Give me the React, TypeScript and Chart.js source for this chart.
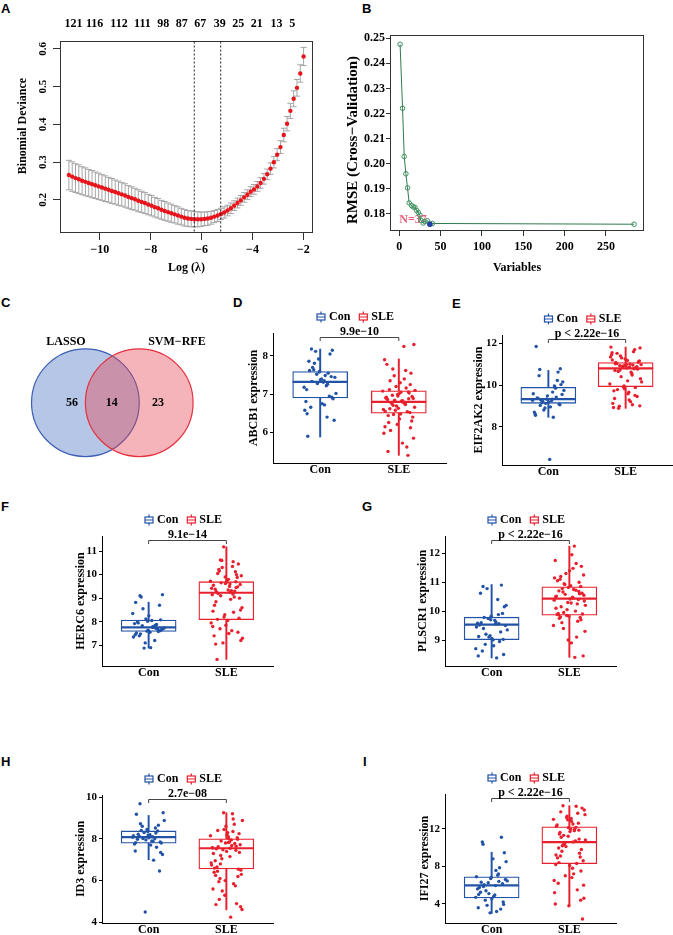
import React, { useEffect, useRef } from "react";
import { Chart, registerables } from "chart.js";

Chart.register(...registerables);

const SERIF = "'Liberation Serif', 'Times New Roman', serif";
Chart.defaults.font.family = SERIF;
Chart.defaults.font.weight = "bold" as any;
Chart.defaults.font.size = 12;
Chart.defaults.color = "#000";

const BLUE = "#2253a6";
const RED = "#e8202d";

// ---------- Panel A: LASSO cross-validation ----------
const logLambda = [-11.22, -11.09, -10.96, -10.83, -10.70, -10.57, -10.44, -10.31, -10.18, -10.05,
  -9.92, -9.79, -9.66, -9.53, -9.40, -9.27, -9.14, -9.01, -8.88, -8.75,
  -8.62, -8.49, -8.36, -8.23, -8.10, -7.97, -7.84, -7.71, -7.58, -7.45,
  -7.32, -7.19, -7.06, -6.93, -6.80, -6.67, -6.54, -6.41, -6.28, -6.15,
  -6.02, -5.89, -5.76, -5.63, -5.50, -5.37, -5.24, -5.11, -4.98, -4.85,
  -4.72, -4.59, -4.46, -4.33, -4.20, -4.07, -3.94, -3.81, -3.68, -3.55,
  -3.42, -3.29, -3.16, -3.03, -2.90, -2.77, -2.64, -2.51, -2.38, -2.25,
  -2.12, -1.99];
const binomialDeviance = [0.266, 0.262, 0.258, 0.255, 0.251, 0.248, 0.245, 0.242, 0.239, 0.236,
  0.233, 0.230, 0.227, 0.224, 0.221, 0.218, 0.215, 0.212, 0.208, 0.205,
  0.202, 0.198, 0.195, 0.192, 0.188, 0.185, 0.181, 0.178, 0.174, 0.171,
  0.168, 0.165, 0.162, 0.159, 0.156, 0.153, 0.151, 0.150, 0.149, 0.149,
  0.149, 0.150, 0.151, 0.153, 0.156, 0.159, 0.163, 0.167, 0.172, 0.178,
  0.185, 0.192, 0.199, 0.207, 0.214, 0.222, 0.228, 0.236, 0.245, 0.256,
  0.268, 0.283, 0.300, 0.320, 0.340, 0.372, 0.402, 0.436, 0.468, 0.497,
  0.535, 0.580];
const devianceSD = [0.039, 0.039, 0.038, 0.038, 0.037, 0.037, 0.036, 0.036, 0.035, 0.035,
  0.034, 0.034, 0.033, 0.033, 0.032, 0.032, 0.031, 0.031, 0.030, 0.030,
  0.029, 0.029, 0.028, 0.028, 0.027, 0.027, 0.026, 0.026, 0.025, 0.025,
  0.024, 0.024, 0.023, 0.023, 0.022, 0.022, 0.021, 0.021, 0.020, 0.020,
  0.019, 0.018, 0.018, 0.017, 0.016, 0.016, 0.015, 0.015, 0.014, 0.014,
  0.013, 0.013, 0.013, 0.013, 0.013, 0.013, 0.013, 0.013, 0.014, 0.014,
  0.014, 0.015, 0.015, 0.016, 0.017, 0.018, 0.019, 0.020, 0.021, 0.022,
  0.023, 0.024];
const nonzeroLambda = [-11.04, -10.21, -9.25, -8.33, -7.51, -6.78, -6.05, -5.29, -4.56, -3.83, -3.06, -2.44];
const nonzeroCounts = ["121", "116", "112", "111", "98", "87", "67", "39", "25", "21", "13", "5"];
const lambdaMinLog = -6.29;
const lambda1seLog = -5.25;

// ---------- Panel B: SVM-RFE ----------
const rfeVariables = [1, 4, 6, 8, 10, 12, 15, 17, 19, 21, 23, 25, 26, 29, 31, 34, 37, 40, 284];
const rfeRMSE = [0.2476, 0.2221, 0.2029, 0.1960, 0.1904, 0.1844, 0.1833, 0.1828, 0.1826, 0.1814,
  0.1806, 0.1795, 0.1775, 0.1764, 0.1770, 0.1773, 0.1759, 0.1762, 0.1759];
const rfeBestN = 37;

// ---------- Panel C: Venn ----------
const vennSetNames = ["LASSO", "SVM-RFE"];
const vennCounts = [56, 14, 23];

// ---------- Panels D-I: boxplots ----------
const groups = ["Con", "SLE"];

const abcb1Con = [7.35, 8.18, 6.92, 7.58, 7.12, 6.40, 7.81, 7.44, 6.75, 7.62, 8.05, 7.28, 6.58, 7.49, 7.70, 6.88, 7.38, 5.90, 7.55, 8.12, 7.02, 7.31, 6.66, 7.46, 7.92, 6.81, 7.22, 7.64, 6.32, 7.40, 7.86, 6.95, 7.52, 7.18, 6.72, 7.33, 8.15, 7.60, 6.49, 7.26];
const abcb1Sle = [6.82, 7.35, 6.12, 6.95, 6.55, 7.62, 6.71, 5.85, 7.05, 6.44, 6.88, 7.20, 6.60, 8.25, 6.78, 6.30, 7.01, 6.92, 5.62, 7.48, 6.66, 6.83, 7.12, 6.52, 6.21, 7.90, 6.74, 6.97, 6.40, 7.30, 6.86, 5.40, 6.58, 7.08, 6.79, 6.05, 7.55, 6.63, 6.90, 7.16, 6.47, 8.30, 6.81, 6.26, 7.03, 6.69, 5.98, 7.40, 6.76, 6.94, 6.35, 7.78, 6.54, 6.84, 7.10, 5.72, 6.62, 7.25, 6.99, 6.15, 6.73, 7.66, 6.89, 6.48, 5.50, 7.06];
const abcb1ConBox = [5.88, 6.90, 7.32, 7.59, 8.18];
const abcb1SleBox = [5.40, 6.50, 6.80, 7.09, 7.92];

const eif2ak2Con = [9.32, 10.75, 9.05, 9.48, 8.62, 9.88, 9.21, 10.15, 8.95, 9.36, 10.62, 9.12, 9.58, 8.45, 9.28, 10.02, 9.18, 11.85, 9.42, 8.80, 9.74, 9.25, 10.45, 9.08, 9.33, 8.70, 9.95, 9.15, 9.55, 6.43, 9.38, 10.22, 8.90, 9.27, 9.66, 9.02, 10.78, 9.30, 8.55, 9.85];
const eif2ak2Sle = [10.85, 11.52, 9.45, 10.95, 11.20, 9.05, 10.72, 11.78, 10.20, 11.02, 9.88, 10.88, 11.35, 9.20, 10.65, 11.10, 10.92, 8.92, 11.60, 10.40, 10.98, 9.65, 11.05, 10.80, 9.95, 11.45, 10.55, 8.98, 11.15, 10.82, 9.35, 11.70, 10.90, 10.05, 11.00, 9.78, 10.76, 11.25, 9.12, 10.96, 11.40, 10.30, 9.58, 11.08, 10.84, 9.90, 11.82, 10.62, 8.88, 11.12, 10.99, 9.72, 10.78, 11.30, 10.15, 9.28, 11.03, 10.88, 9.82, 11.55, 10.48, 10.93, 9.00, 11.18, 10.70, 9.50];
const eif2ak2ConBox = [8.45, 9.12, 9.32, 9.89, 10.70];
const eif2ak2SleBox = [8.88, 9.92, 10.80, 11.08, 11.82];

const herc6Con = [7.78, 9.10, 7.62, 8.02, 7.45, 7.85, 8.55, 7.70, 6.90, 7.95, 7.58, 8.12, 7.35, 7.80, 9.05, 7.66, 8.25, 7.52, 7.88, 6.88, 7.74, 8.05, 7.40, 8.70, 7.60, 7.92, 7.20, 7.83, 9.15, 7.55, 8.00, 7.68, 7.10, 8.35, 7.76, 7.48, 8.08, 7.64, 8.82, 7.72];
const herc6Sle = [9.25, 10.05, 7.55, 9.62, 8.45, 10.55, 9.10, 7.20, 9.80, 8.85, 9.45, 11.18, 7.95, 9.32, 10.22, 8.15, 9.68, 7.40, 9.05, 10.60, 8.60, 9.50, 6.40, 9.88, 8.30, 9.15, 10.35, 7.70, 9.58, 8.05, 9.38, 10.12, 7.10, 9.72, 8.95, 9.20, 10.45, 7.85, 9.55, 8.40, 9.65, 9.95, 7.50, 9.28, 10.00, 8.20, 9.42, 7.62, 10.15, 9.00, 9.76, 8.70, 9.30, 10.30, 7.30, 9.60, 8.10, 9.48, 9.90, 7.80, 9.18, 10.62, 8.50, 9.35, 7.05, 9.70];
const herc6ConBox = [6.88, 7.59, 7.76, 8.07, 8.83];
const herc6SleBox = [6.40, 8.09, 9.23, 9.70, 11.18];

const plscr1Con = [9.55, 10.85, 9.02, 9.70, 8.45, 9.88, 9.20, 10.20, 8.80, 9.60, 10.90, 9.10, 9.45, 8.38, 9.78, 10.15, 9.05, 9.52, 8.95, 10.78, 9.35, 9.68, 8.62, 9.92, 9.15, 9.58, 10.40, 8.85, 9.50, 9.00, 10.62, 9.28, 9.74, 8.70, 9.62, 9.40, 8.50, 9.82, 9.12, 9.56];
const plscr1Sle = [10.45, 11.20, 9.70, 10.82, 10.10, 11.65, 9.95, 10.55, 8.90, 10.70, 11.00, 9.85, 10.38, 12.25, 9.60, 10.62, 11.40, 9.88, 10.25, 10.92, 9.30, 10.48, 11.10, 9.78, 10.30, 11.75, 10.00, 10.66, 8.45, 10.88, 9.92, 10.40, 11.30, 9.50, 10.75, 10.15, 11.55, 9.82, 10.52, 9.10, 10.95, 10.35, 11.95, 9.75, 10.60, 10.05, 11.15, 8.40, 10.78, 9.90, 10.42, 11.05, 9.65, 10.58, 10.20, 11.48, 9.80, 10.85, 9.00, 10.50, 10.72, 9.40, 11.25, 10.28, 9.87, 10.68];
const plscr1ConBox = [8.38, 9.01, 9.53, 9.79, 10.92];
const plscr1SleBox = [8.40, 9.86, 10.43, 10.84, 12.25];

const id3Con = [8.10, 9.68, 7.85, 8.35, 7.42, 8.52, 8.02, 9.25, 7.70, 8.22, 8.65, 7.95, 8.15, 6.98, 8.40, 7.80, 8.05, 9.18, 7.60, 8.30, 8.88, 7.90, 8.12, 6.46, 8.45, 7.75, 8.00, 8.60, 7.25, 8.20, 7.98, 8.38, 4.50, 8.08, 7.88, 8.72, 7.35, 8.18, 7.82, 8.28];
const id3Sle = [7.55, 8.40, 6.20, 7.80, 5.60, 8.95, 7.20, 6.50, 8.10, 4.85, 7.65, 9.25, 6.85, 7.95, 5.95, 8.25, 7.40, 6.40, 8.70, 7.05, 4.62, 7.85, 6.65, 8.05, 5.30, 7.58, 9.20, 6.10, 7.72, 8.30, 6.95, 5.75, 7.48, 8.15, 4.25, 7.62, 6.55, 8.60, 7.30, 5.85, 7.90, 6.30, 8.00, 7.52, 4.90, 8.45, 6.75, 7.68, 5.10, 7.35, 8.20, 6.60, 7.78, 5.50, 8.88, 7.15, 6.45, 7.98, 6.00, 7.56, 8.35, 6.80, 4.75, 7.82, 6.25, 7.45];
const id3ConBox = [7.00, 7.79, 8.08, 8.38, 9.12];
const id3SleBox = [4.60, 6.56, 7.55, 8.00, 9.25];

const ifi27Con = [5.95, 10.35, 4.20, 6.70, 3.60, 7.20, 5.40, 8.50, 4.80, 6.30, 11.10, 5.10, 6.90, 3.20, 6.05, 9.45, 4.55, 5.75, 7.85, 3.85, 6.45, 4.95, 10.60, 6.15, 3.05, 5.60, 7.05, 4.40, 6.60, 8.80, 5.25, 3.45, 6.25, 4.70, 7.55, 5.85, 3.95, 6.80, 5.00, 6.40];
const ifi27Sle = [10.60, 13.80, 7.50, 12.10, 9.20, 14.40, 11.30, 4.60, 12.80, 8.40, 10.90, 13.20, 6.50, 11.80, 9.60, 14.20, 8.10, 12.40, 5.50, 10.40, 13.50, 7.80, 11.60, 9.00, 12.95, 4.00, 10.70, 14.45, 8.60, 11.95, 6.20, 12.60, 10.10, 13.00, 7.20, 11.10, 9.80, 3.80, 12.25, 8.30, 10.55, 14.00, 6.80, 11.45, 9.40, 13.35, 5.20, 12.00, 10.20, 2.40, 11.70, 8.90, 13.65, 7.00, 10.80, 12.50, 9.10, 4.40, 11.20, 8.20, 12.15, 10.30, 6.00, 13.10, 9.95, 11.85];
const ifi27ConBox = [2.97, 4.64, 5.98, 6.88, 9.50];
const ifi27SleBox = [3.80, 8.28, 10.57, 12.20, 14.45];

const noPlugins = { legend: { display: false }, tooltip: { enabled: false } };
const minus = (v: any) => String(v).replace("-", "\u2212");

function useChart(ref: React.RefObject<HTMLCanvasElement | null>, make: (c: HTMLCanvasElement) => Chart) {
  useEffect(() => {
    if (!ref.current) return;
    const chart = make(ref.current);
    return () => chart.destroy();
  }, []);
}

function canvasStyle(left: number, top: number, w: number, h: number): React.CSSProperties {
  return { position: "absolute", left, top, width: w, height: h, display: "block" };
}

// ---------- A ----------
function LassoPanel() {
  const ref = useRef<HTMLCanvasElement | null>(null);
  const W = 330, H = 285;
  useChart(ref, (c) => {
    const plugin = {
      id: "lassoDecor",
      beforeDatasetsDraw(chart: any) {
        const { ctx, chartArea: a, scales: { x, y } } = chart;
        ctx.save();
        ctx.beginPath();
        ctx.rect(a.left, a.top, a.width, a.height);
        ctx.clip();
        ctx.strokeStyle = "#a6a6a6";
        ctx.lineWidth = 1;
        ctx.beginPath();
        logLambda.forEach((l, i) => {
          const px = x.getPixelForValue(l);
          const lo = y.getPixelForValue(binomialDeviance[i] - devianceSD[i]);
          const hi = y.getPixelForValue(binomialDeviance[i] + devianceSD[i]);
          ctx.moveTo(px, lo); ctx.lineTo(px, hi);
          ctx.moveTo(px - 3, lo); ctx.lineTo(px + 3, lo);
          ctx.moveTo(px - 3, hi); ctx.lineTo(px + 3, hi);
        });
        ctx.stroke();
        ctx.restore();
      },
      afterDraw(chart: any) {
        const { ctx, chartArea: a, scales: { y } } = chart;
        ctx.save();
        ctx.strokeStyle = "#333";
        ctx.lineWidth = 1;
        ctx.strokeRect(Math.round(a.left) + 0.5, Math.round(a.top) + 0.5, Math.round(a.width) - 1, Math.round(a.height) - 1);
        ctx.fillStyle = "#000";
        ctx.textAlign = "center";
        ctx.textBaseline = "middle";
        ctx.font = `bold 11px ${SERIF}`;
        y.ticks.forEach((t: any) => {
          const py = y.getPixelForValue(t.value);
          ctx.save();
          ctx.translate(43.5, py);
          ctx.rotate(-Math.PI / 2);
          ctx.fillText(t.value.toFixed(1), 0, 0);
          ctx.restore();
        });
        ctx.font = `bold 12px ${SERIF}`;
        ctx.translate(23, 126);
        ctx.rotate(-Math.PI / 2);
        ctx.fillText("Binomial Deviance", 0, 0);
        ctx.restore();
      },
    };
    return new Chart(c, {
      type: "scatter",
      data: {
        datasets: [
          { data: [{ x: lambdaMinLog, y: 0 }, { x: lambdaMinLog, y: 1 }], showLine: true, borderColor: "#222", borderWidth: 1, borderDash: [2, 2], pointRadius: 0 },
          { data: [{ x: lambda1seLog, y: 0 }, { x: lambda1seLog, y: 1 }], showLine: true, borderColor: "#222", borderWidth: 1, borderDash: [2, 2], pointRadius: 0 },
          { data: logLambda.map((l, i) => ({ x: l, y: binomialDeviance[i] })), backgroundColor: "#e8141c", borderWidth: 0, pointRadius: 2.2 },
        ],
      } as any,
      options: {
        responsive: false, animation: false, events: [],
        layout: { autoPadding: false, padding: { left: 0, right: 17, top: 0, bottom: 0 } },
        plugins: noPlugins,
        scales: {
          x: {
            type: "linear", position: "bottom", min: -11.57, max: -1.62,
            ticks: { stepSize: 2, includeBounds: false, padding: 3, callback: (v: any) => minus(v), font: { size: 12, weight: "bold" } },
            grid: { drawOnChartArea: false, drawTicks: true, tickLength: 7, color: "#333" },
            border: { display: false },
            title: { display: true, text: "Log (\u03bb)", font: { size: 12, weight: "bold" }, padding: { top: 0, bottom: 9.8 } },
            afterFit: (s: any) => { s.height = 52; },
          },
          x2: {
            type: "linear", position: "top", min: -11.57, max: -1.62,
            afterBuildTicks: (s: any) => { s.ticks = nonzeroLambda.map((v) => ({ value: v })); },
            ticks: { autoSkip: false, maxRotation: 0, minRotation: 0, padding: 9.8, callback: (_v: any, i: number) => nonzeroCounts[i], font: { size: 12, weight: "bold" } },
            grid: { display: false, drawTicks: false },
            border: { display: false },
            afterFit: (s: any) => { s.height = 41; },
          },
          y: {
            type: "linear", min: 0.1126, max: 0.621,
            ticks: { stepSize: 0.1, includeBounds: false, display: false },
            grid: { drawOnChartArea: false, drawTicks: true, tickLength: 7, color: "#333" },
            border: { display: false },
            afterFit: (s: any) => { s.width = 60; },
          },
        },
      } as any,
      plugins: [plugin],
    });
  });
  return <canvas ref={ref} width={W} height={H} style={canvasStyle(0, 0, W, H)} />;
}

// ---------- B ----------
function RfePanel() {
  const ref = useRef<HTMLCanvasElement | null>(null);
  const W = 333, H = 285;
  useChart(ref, (c) => {
    const bestRMSE = rfeRMSE[rfeVariables.indexOf(rfeBestN)];
    const plugin = {
      id: "rfeDecor",
      beforeDatasetsDraw(chart: any) {
        const { ctx, scales: { x, y } } = chart;
        ctx.save();
        ctx.font = `bold 12px ${SERIF}`;
        ctx.fillStyle = "#e8607a";
        ctx.textAlign = "right";
        ctx.textBaseline = "middle";
        ctx.fillText(`N=${rfeBestN}`, x.getPixelForValue(rfeBestN) - 3, y.getPixelForValue(bestRMSE) - 4);
        ctx.restore();
      },
      afterDraw(chart: any) {
        const { ctx, chartArea: a } = chart;
        ctx.save();
        ctx.strokeStyle = "#333";
        ctx.lineWidth = 1;
        ctx.strokeRect(Math.round(a.left) + 0.5, Math.round(a.top) + 0.5, Math.round(a.width) - 1, Math.round(a.height) - 1);
        ctx.fillStyle = "#000";
        ctx.textAlign = "center";
        ctx.textBaseline = "middle";
        ctx.font = `bold 15px ${SERIF}`;
        ctx.translate(13.5, 140);
        ctx.rotate(-Math.PI / 2);
        ctx.fillText("RMSE (Cross\u2212Validation)", 0, 0);
        ctx.restore();
      },
    };
    return new Chart(c, {
      type: "scatter",
      data: {
        datasets: [
          { data: [{ x: rfeBestN, y: bestRMSE }], backgroundColor: "#2241a6", borderWidth: 0, pointRadius: 2.7 },
          {
            data: rfeVariables.map((v, i) => ({ x: v, y: rfeRMSE[i] })), showLine: true,
            borderColor: "#2f7a4c", borderWidth: 1, pointRadius: 2.3,
            pointBackgroundColor: "rgba(0,0,0,0)", pointBorderColor: "#3d9160", pointBorderWidth: 1,
          },
        ],
      } as any,
      options: {
        responsive: false, animation: false, events: [],
        layout: { autoPadding: false, padding: { left: 0, right: 29, top: 35, bottom: 0 } },
        plugins: noPlugins,
        scales: {
          x: {
            type: "linear", min: -11.2, max: 296,
            ticks: { stepSize: 50, includeBounds: false, padding: 3.5, font: { size: 12, weight: "bold" } },
            grid: { drawOnChartArea: false, drawTicks: true, tickLength: 5, color: "#333" },
            border: { display: false },
            title: { display: true, text: "Variables", font: { size: 12, weight: "bold" }, padding: { top: 0, bottom: 9.5 } },
            afterFit: (s: any) => { s.height = 54; },
          },
          y: {
            type: "linear", min: 0.1732, max: 0.2513,
            ticks: { stepSize: 0.01, includeBounds: false, padding: 1, callback: (v: any) => Number(v).toFixed(2), font: { size: 12, weight: "bold" } },
            grid: { drawOnChartArea: false, drawTicks: true, tickLength: 4, color: "#333" },
            border: { display: false },
            afterFit: (s: any) => { s.width = 50; },
          },
        },
      } as any,
      plugins: [plugin],
    });
  });
  return <canvas ref={ref} width={W} height={H} style={canvasStyle(340, 0, W, H)} />;
}

// ---------- C ----------
function VennPanel() {
  const ref = useRef<HTMLCanvasElement | null>(null);
  const W = 210, H = 140;
  const X_MIN = -1.4, X_MAX = 2.5;
  useChart(ref, (c) => {
    const unitPx = W / (X_MAX - X_MIN);
    const nameX = [-0.36, 1.7];
    const countX = [-0.25, 0.49, 1.35];
    const plugin = {
      id: "vennText",
      afterDatasetsDraw(chart: any) {
        const { ctx, scales: { x, y } } = chart;
        ctx.save();
        ctx.font = `bold 12px ${SERIF}`;
        ctx.fillStyle = "#000";
        ctx.textAlign = "center";
        ctx.textBaseline = "middle";
        vennSetNames.forEach((n, i) => ctx.fillText(n.replace("-", "\u2212"), x.getPixelForValue(nameX[i]), y.getPixelForValue(1.13)));
        vennCounts.forEach((n, i) => ctx.fillText(String(n), x.getPixelForValue(countX[i]), y.getPixelForValue(0)));
        ctx.restore();
      },
    };
    return new Chart(c, {
      type: "bubble",
      data: {
        datasets: [
          { label: vennSetNames[1], data: [{ x: 1, y: 0 }], backgroundColor: "rgba(230,67,80,0.4)", borderColor: "#e4313f", borderWidth: 1.2, radius: unitPx, hoverRadius: 0, clip: false },
          { label: vennSetNames[0], data: [{ x: 0, y: 0 }], backgroundColor: "rgba(72,112,192,0.4)", borderColor: "#3c5eb4", borderWidth: 1.2, radius: unitPx, hoverRadius: 0, clip: false },
        ],
      } as any,
      options: {
        responsive: false, animation: false, events: [],
        layout: { autoPadding: false, padding: 0 },
        plugins: noPlugins,
        scales: { x: { display: false, min: X_MIN, max: X_MAX }, y: { display: false, min: -1.25, max: 1.35 } },
      } as any,
      plugins: [plugin],
    });
  });
  return <canvas ref={ref} width={W} height={H} style={canvasStyle(10, 330, W, H)} />;
}

// ---------- D-I ----------
type BoxProps = {
  left: number; top: number; areaW: number; areaH: number;
  yMin: number; yMax: number; yStep: number;
  title: string; titlePad: number; pLabel: string;
  con: number[]; sle: number[]; conBox: number[]; sleBox: number[];
};

function drawKey(ctx: CanvasRenderingContext2D, cx: number, cy: number, color: string) {
  ctx.save();
  ctx.strokeStyle = color;
  ctx.lineWidth = 1.2;
  ctx.strokeRect(cx - 4, cy - 3, 8, 6);
  ctx.beginPath();
  ctx.moveTo(cx - 4, cy); ctx.lineTo(cx + 4, cy);
  ctx.moveTo(cx, cy - 5.5); ctx.lineTo(cx, cy - 3);
  ctx.moveTo(cx, cy + 3); ctx.lineTo(cx, cy + 5.5);
  ctx.stroke();
  ctx.restore();
}

function BoxPanel(p: BoxProps) {
  const ref = useRef<HTMLCanvasElement | null>(null);
  const PADL = 36, PADT = 32, PADR = 1, PADB = 18;
  const cw = p.areaW + PADL + PADR;
  const ch = p.areaH + PADT + PADB;
  useChart(ref, (c) => {
    const jit = (i: number) => ((((i + 1) * 0.618034) % 1) - 0.5) * 0.42;
    const pts = (arr: number[], g: number) => arr.map((v, i) => ({ x: g + jit(i), y: v }));
    const plugin = {
      id: "boxDecor",
      afterDraw(chart: any) {
        const { ctx, chartArea: a, scales: { x } } = chart;
        const x1 = x.getPixelForValue(1), x2 = x.getPixelForValue(2);
        ctx.save();
        const by = Math.round(a.top + 4) + 0.5;
        ctx.strokeStyle = "#444";
        ctx.lineWidth = 1;
        ctx.beginPath();
        ctx.moveTo(x1, by + 3.5); ctx.lineTo(x1, by); ctx.lineTo(x2, by); ctx.lineTo(x2, by + 3.5);
        ctx.stroke();
        ctx.font = `bold 12px ${SERIF}`;
        ctx.fillStyle = "#000";
        ctx.textAlign = "center";
        ctx.textBaseline = "middle";
        ctx.fillText(p.pLabel, (x1 + x2) / 2, a.top - 1);
        const ly = a.top - 16;
        const wCon = ctx.measureText(groups[0]).width;
        const wSle = ctx.measureText(groups[1]).width;
        const total = 12 + wCon + 9 + 12 + wSle;
        let sx = (x1 + x2) / 2 - 4 - total / 2;
        ctx.textAlign = "left";
        drawKey(ctx, sx + 4, ly, BLUE);
        ctx.fillText(groups[0], sx + 12, ly);
        sx += 12 + wCon + 9;
        drawKey(ctx, sx + 4, ly, RED);
        ctx.fillText(groups[1], sx + 12, ly);
        ctx.restore();
      },
    };
    return new Chart(c, {
      type: "scatter",
      data: {
        datasets: [
          { data: pts(p.con, 1), backgroundColor: BLUE, borderWidth: 0, pointRadius: 1.7 },
          { data: pts(p.sle, 2), backgroundColor: RED, borderWidth: 0, pointRadius: 1.7 },
          {
            data: [{ x: 1, y: p.conBox[2] }, { x: 2, y: p.sleBox[2] }],
            pointStyle: "line", pointRadius: 27.5, pointBorderWidth: 2.2,
            pointBorderColor: [BLUE, RED], borderColor: [BLUE, RED], backgroundColor: [BLUE, RED],
          },
          {
            type: "bar", grouped: false, barThickness: 55,
            data: [{ x: 1, y: [p.conBox[1], p.conBox[3]] }, { x: 2, y: [p.sleBox[1], p.sleBox[3]] }],
            backgroundColor: "#ffffff", borderColor: [BLUE, RED], borderWidth: 1.3, borderSkipped: false,
          },
          {
            type: "bar", grouped: false, barThickness: 1.3,
            data: [{ x: 1, y: [p.conBox[0], p.conBox[4]] }, { x: 2, y: [p.sleBox[0], p.sleBox[4]] }],
            backgroundColor: [BLUE, RED], borderWidth: 0,
          },
        ],
      } as any,
      options: {
        responsive: false, animation: false, events: [],
        layout: { autoPadding: false, padding: { left: 0, right: PADR, top: PADT, bottom: 0 } },
        plugins: noPlugins,
        scales: {
          x: {
            type: "linear", min: 0.4, max: 2.6, offset: false,
            afterBuildTicks: (s: any) => { s.ticks = [{ value: 1 }, { value: 2 }]; },
            ticks: { autoSkip: false, maxRotation: 0, minRotation: 0, padding: 0, callback: (_v: any, i: number) => groups[i], font: { size: 12, weight: "bold" } },
            grid: { display: false, drawTicks: false },
            border: { display: true, color: "#000", width: 1 },
            afterFit: (s: any) => { s.height = PADB; },
          },
          y: {
            type: "linear", min: p.yMin, max: p.yMax,
            ticks: { stepSize: p.yStep, includeBounds: false, padding: 2, font: { size: 11, weight: "bold" } },
            grid: { drawOnChartArea: false, drawTicks: true, tickLength: 3, color: "#000" },
            border: { display: true, color: "#000", width: 1 },
            title: { display: true, text: p.title, font: { size: 12, weight: "bold" }, padding: { top: p.titlePad, bottom: 0 } },
            afterFit: (s: any) => { s.width = PADL; },
          },
        },
      } as any,
      plugins: [plugin],
    });
  });
  return <canvas ref={ref} width={cw} height={ch} style={canvasStyle(p.left - PADL, p.top - PADT, cw, ch)} />;
}

const letterStyle = (left: number, top: number): React.CSSProperties => ({
  position: "absolute", left, top, fontFamily: "'Liberation Sans', Arial, sans-serif",
  fontWeight: "bold", fontSize: 13, lineHeight: "13px", color: "#000",
});

export default function App() {
  const letters: [string, number, number][] = [
    ["A", 1, 2], ["B", 362, 2], ["C", 1, 296], ["D", 233, 296], ["E", 452, 297],
    ["F", 1, 500], ["G", 362, 500], ["H", 1, 755], ["I", 363, 755],
  ];
  return (
    <div style={{ position: "absolute", left: 0, top: 0, width: 673, height: 935, overflow: "hidden", background: "#fff" }}>
      {letters.map(([t, l, tp]) => (
        <div key={t} style={letterStyle(l, tp)}>{t}</div>
      ))}
      <LassoPanel />
      <RfePanel />
      <VennPanel />
      <BoxPanel left={273} top={333} areaW={173} areaH={130} yMin={5.2} yMax={8.6} yStep={1}
        title="ABCB1 expression" titlePad={9.5} pLabel={"9.9e\u221210"}
        con={abcb1Con} sle={abcb1Sle} conBox={abcb1ConBox} sleBox={abcb1SleBox} />
      <BoxPanel left={502} top={335} areaW={170} areaH={130} yMin={6.16} yMax={12.4} yStep={2}
        title="EIF2AK2 expression" titlePad={5.5} pLabel={"p < 2.22e\u221216"}
        con={eif2ak2Con} sle={eif2ak2Sle} conBox={eif2ak2ConBox} sleBox={eif2ak2SleBox} />
      <BoxPanel left={102} top={536} areaW={171} areaH={130} yMin={6.12} yMax={11.64} yStep={1}
        title="HERC6 expression" titlePad={7.5} pLabel={"9.1e\u221214"}
        con={herc6Con} sle={herc6Sle} conBox={herc6ConBox} sleBox={herc6SleBox} />
      <BoxPanel left={445} top={536} areaW={171} areaH={130} yMin={8.1} yMax={12.6} yStep={1}
        title="PLSCR1 expression" titlePad={6.5} pLabel={"p < 2.22e\u221216"}
        con={plscr1Con} sle={plscr1Sle} conBox={plscr1ConBox} sleBox={plscr1SleBox} />
      <BoxPanel left={102} top={795} areaW={171} areaH={128} yMin={3.97} yMax={10.1} yStep={2}
        title="ID3 expression" titlePad={7.5} pLabel={"2.7e\u221208"}
        con={id3Con} sle={id3Sle} conBox={id3ConBox} sleBox={id3SleBox} />
      <BoxPanel left={445} top={794} areaW={171} areaH={129} yMin={1.97} yMax={15.7} yStep={4}
        title="IFI27 expression" titlePad={8.5} pLabel={"p < 2.22e\u221216"}
        con={ifi27Con} sle={ifi27Sle} conBox={ifi27ConBox} sleBox={ifi27SleBox} />
    </div>
  );
}
